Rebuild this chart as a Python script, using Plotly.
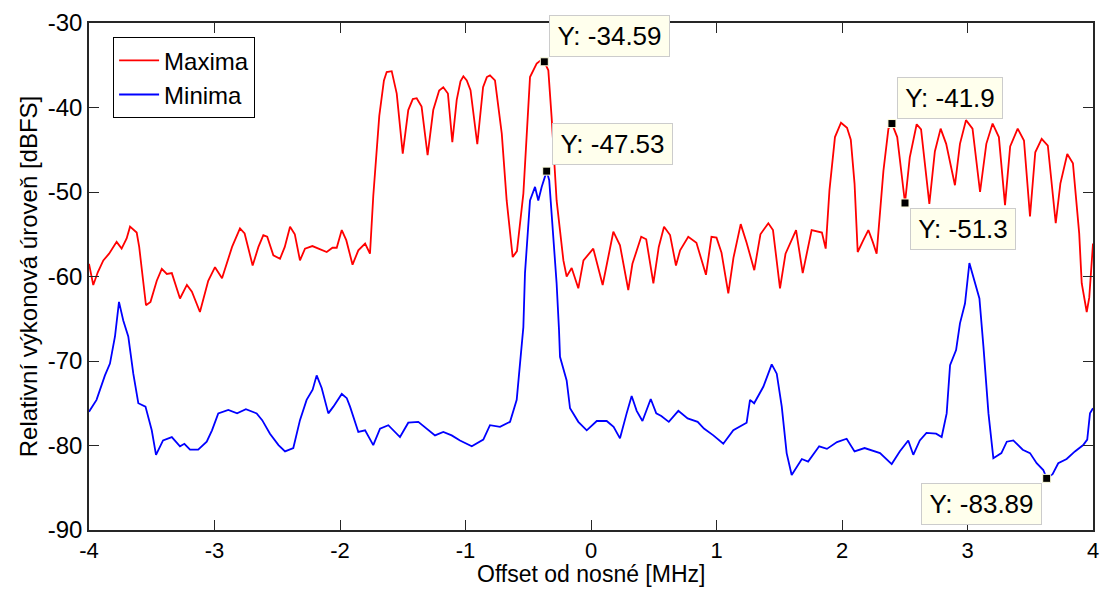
import plotly.graph_objects as go

# Maxima trace (offset in MHz, level in dBFS)
max_x = [-4.00, -3.966, -3.93, -3.886, -3.84, -3.78, -3.74, -3.70, -3.673, -3.62, -3.60, -3.546, -3.51,
         -3.46, -3.42, -3.38, -3.34, -3.275, -3.22, -3.18, -3.116, -3.05, -2.996, -2.94, -2.86, -2.797,
         -2.76, -2.696, -2.65, -2.611, -2.58, -2.531, -2.478, -2.44, -2.398, -2.36, -2.319, -2.279, -2.22,
         -2.16, -2.106, -2.06, -2.026, -1.986, -1.95, -1.90, -1.854, -1.80, -1.761, -1.735, -1.687, -1.65,
         -1.628, -1.588, -1.548, -1.50, -1.456, -1.42, -1.389, -1.35, -1.302, -1.257, -1.21, -1.177, -1.14,
         -1.105, -1.07, -1.04, -1.017, -0.99, -0.96, -0.906, -0.86, -0.83, -0.805, -0.765, -0.711, -0.672,
         -0.624, -0.59, -0.539, -0.486, -0.433, -0.40, -0.372, -0.34, -0.314, -0.274, -0.22, -0.194, -0.154,
         -0.101, -0.06, 0.018, 0.093, 0.178, 0.231,
         0.297, 0.33, 0.40, 0.44, 0.497, 0.54, 0.582, 0.63, 0.677, 0.71, 0.775, 0.84, 0.916, 0.96, 1.00,
         1.04, 1.094, 1.135, 1.193, 1.24, 1.301, 1.35, 1.413, 1.45, 1.506, 1.55, 1.634, 1.687, 1.758, 1.84,
         1.87, 1.90, 1.944, 1.992, 2.04, 2.07, 2.10, 2.125, 2.17, 2.21, 2.245, 2.276, 2.33, 2.37, 2.398,
         2.44, 2.502, 2.54, 2.595, 2.63, 2.696, 2.74, 2.786, 2.83, 2.90, 2.94, 2.988, 3.04, 3.10, 3.15,
         3.20, 3.25, 3.299, 3.34, 3.40, 3.45, 3.498, 3.54, 3.591, 3.64, 3.703, 3.74, 3.795, 3.84, 3.89,
         3.91, 3.95, 3.97, 4.00]
max_y = [-58.5, -61.0, -59.5, -58.1, -57.3, -55.9, -56.7, -55.5, -54.1, -54.8, -56.5, -63.4, -63.0,
         -60.5, -59.1, -59.7, -59.6, -62.6, -61.0, -61.8, -64.2, -60.5, -58.9, -60.2, -56.5, -54.3,
         -54.9, -58.7, -56.5, -55.1, -55.3, -57.5, -57.9, -56.5, -54.1, -55.0, -58.1, -56.7, -56.4,
         -56.8, -57.1, -56.6, -56.6, -54.5, -55.7, -58.6, -56.9, -56.1, -57.3, -50.5, -41.0, -36.8,
         -35.8, -35.7, -38.35, -45.45, -40.3, -39.0, -38.9, -39.9, -45.65, -40.3, -38.0, -37.6, -38.35,
         -44.1, -39.1, -36.9, -36.3, -36.8, -37.95, -44.35, -37.6, -36.4, -36.2, -36.8, -43.1, -51.0,
         -57.7, -57.0, -50.2, -36.4, -34.8, -34.4, -34.59, -35.6, -41.1, -51.0, -58.1, -60.0, -59.0,
         -61.4, -58.1, -56.7, -61.0, -54.7, -56.3,
         -61.6, -58.5, -55.3, -55.6, -60.8, -56.5, -54.1, -55.1, -58.7, -56.9, -55.3, -56.0, -59.8, -55.3, -55.4,
         -57.2, -62.0, -57.8, -53.8, -56.0, -59.25, -55.0, -53.7, -54.5, -61.4, -57.3, -54.5, -59.6, -54.5, -54.8,
         -56.7, -49.8, -43.5, -41.8, -42.4, -43.8, -49.0, -57.1, -55.7, -54.5, -55.9, -57.3, -47.5, -42.5, -41.9,
         -43.5, -51.3, -45.9, -41.98, -42.6, -51.4, -45.2, -42.5, -44.3, -49.2, -44.3, -41.5, -42.5, -50.0, -44.3,
         -41.9, -43.5, -51.55, -44.6, -42.5, -43.9, -52.9, -45.3, -43.7, -44.5, -53.7, -49.0, -45.5, -46.6, -54.9,
         -60.8, -64.2, -62.5, -56.1]

# Minima trace
min_x = [-4.00, -3.94, -3.873, -3.833, -3.793, -3.761, -3.727, -3.687, -3.647, -3.607, -3.55, -3.50, -3.466,
         -3.41, -3.34, -3.275, -3.24, -3.195, -3.13, -3.062, -3.02, -2.97, -2.89, -2.82, -2.75, -2.664,
         -2.62, -2.558, -2.49, -2.438, -2.372, -2.319, -2.266, -2.218, -2.186, -2.146, -2.093, -2.053,
         -1.986, -1.946, -1.92, -1.854, -1.80, -1.735, -1.681, -1.615, -1.522, -1.456, -1.376, -1.31,
         -1.243, -1.177, -1.11, -1.044, -0.95, -0.858, -0.805, -0.725, -0.645, -0.592, -0.552, -0.539,
         -0.526, -0.486, -0.446, -0.42, -0.393, -0.353, -0.333, -0.30, -0.274, -0.255, -0.247, -0.194,
         -0.167, -0.101, -0.034, 0.046, 0.125, 0.18, 0.231, 0.284, 0.324, 0.364, 0.41, 0.476, 0.52, 0.56,
         0.62, 0.696, 0.77, 0.85, 0.90, 0.975, 1.054, 1.134, 1.20, 1.24, 1.267, 1.30, 1.373, 1.44, 1.48,
         1.52, 1.559, 1.599, 1.68, 1.73, 1.818, 1.88, 1.96, 2.037, 2.10, 2.18, 2.303, 2.396, 2.46, 2.528,
         2.568, 2.62, 2.673, 2.75, 2.794, 2.834, 2.861, 2.909, 2.94, 2.98, 3.015, 3.06, 3.095, 3.127,
         3.167, 3.206, 3.27, 3.313, 3.365, 3.44, 3.498, 3.551, 3.604, 3.631, 3.678, 3.723, 3.79, 3.856,
         3.922, 3.954, 3.976, 4.00]
min_y = [-76.0, -74.6, -71.7, -70.3, -67.1, -63.0, -65.2, -67.1, -71.5, -75.0, -75.4, -78.2, -81.1,
         -79.4, -79.0, -80.1, -79.8, -80.5, -80.5, -79.55, -78.2, -76.2, -75.8, -76.2, -75.7, -76.2,
         -77.0, -78.6, -79.95, -80.7, -80.3, -77.0, -74.6, -73.4, -71.7, -73.2, -76.2, -75.4,
         -73.9, -74.4, -75.4, -78.4, -78.2, -79.95, -78.0, -77.6, -79.0, -77.3, -77.2, -78.0,
         -78.8, -78.4, -78.8, -79.4, -80.1, -79.3, -77.6, -77.8, -77.2, -74.6, -68.7, -66.0,
         -59.6, -51.0, -49.4, -51.0, -49.4, -47.53, -48.6, -54.9, -60.8, -66.3, -69.5, -72.3,
         -75.6, -77.2, -78.2, -77.1, -77.1, -77.8, -79.15, -76.2, -74.15, -75.9, -77.1, -74.5, -76.2, -76.5,
         -77.2, -75.9, -76.8, -77.2, -78.0, -78.8, -79.8, -78.2, -77.6, -77.3, -74.6, -75.0, -73.05, -70.4, -71.5,
         -75.4, -80.9, -83.5, -81.6, -81.9, -80.1, -80.4, -79.6, -79.2, -80.7, -80.3, -80.9, -82.2, -80.7, -79.4,
         -81.1, -79.4, -78.5, -78.6, -79.0, -76.2, -70.5, -68.7, -65.55, -63.2, -58.4, -60.6, -62.6, -68.3,
         -76.2, -81.5, -80.9, -79.55, -79.4, -80.5, -80.9, -82.1, -82.9, -83.89, -83.4, -82.1, -81.6, -80.7,
         -79.95, -79.3, -76.2, -75.6]

# Data cursor readouts
tip_x = [-0.372, -0.353, 2.398, 2.502, 3.631]
tip_y = [-34.59, -47.53, -41.9, -51.3, -83.89]
tip_text = ["Y: -34.59", "Y: -47.53", "Y: -41.9", "Y: -51.3", "Y: -83.89"]

x_ticks = [-4, -3, -2, -1, 0, 1, 2, 3, 4]
y_ticks = [-90, -80, -70, -60, -50, -40, -30]

FONT = "Liberation Sans, Arial, sans-serif"
AXIS_COLOR = "#262626"

fig = go.Figure()
fig.add_trace(go.Scatter(x=max_x, y=max_y, mode="lines", name="Maxima",
                         line=dict(color="#ff0000", width=1.8)))
fig.add_trace(go.Scatter(x=min_x, y=min_y, mode="lines", name="Minima",
                         line=dict(color="#0000ff", width=1.8)))
fig.add_trace(go.Scatter(x=tip_x, y=tip_y, mode="markers", showlegend=False,
                         marker=dict(symbol="square", size=8, color="black",
                                     line=dict(color="#ffffe0", width=1))))

# label box placement per readout: (xanchor, yanchor, xshift, yshift, box width)
placement = [("left", "bottom", 5, 5, 113),
             ("left", "bottom", 5, 6, 113),
             ("left", "bottom", 5, 5, 98),
             ("left", "top", 5, -5, 98),
             ("right", "top", -5, -5, 113)]
for xv, yv, txt, (xa, ya, xs, ys, w) in zip(tip_x, tip_y, tip_text, placement):
    fig.add_annotation(x=xv, y=yv, xref="x", yref="y", text=txt, showarrow=False,
                       xanchor=xa, yanchor=ya, xshift=xs, yshift=ys,
                       width=w, height=34, align="center", valign="middle",
                       font=dict(family=FONT, size=26, color="black"),
                       bgcolor="rgb(255,255,237)", bordercolor="#cccccc",
                       borderwidth=1, borderpad=3)

# x-axis title sits low, right along the bottom edge
fig.add_annotation(x=0.5, y=0, xref="paper", yref="paper", text="Offset od nosné [MHz]",
                   showarrow=False, xanchor="center", yanchor="bottom", yshift=-58,
                   borderpad=0, font=dict(family=FONT, size=23, color="black"))

fig.update_layout(
    width=1101, height=589,
    margin=dict(l=89, r=8, t=23, b=59),
    paper_bgcolor="white", plot_bgcolor="white",
    font=dict(family=FONT, size=23, color="black"),
    showlegend=True,
    legend=dict(x=0.024, y=0.972, xanchor="left", yanchor="top",
                bgcolor="white", bordercolor="black", borderwidth=1,
                font=dict(family=FONT, size=24, color="black"),
                tracegroupgap=0, itemwidth=40),
)
fig.update_xaxes(range=[-4, 4], tickvals=x_ticks, ticktext=[str(v) for v in x_ticks],
                 ticks="inside", ticklen=10, tickcolor=AXIS_COLOR, tickwidth=1,
                 showline=True, linecolor=AXIS_COLOR, linewidth=1.5, mirror="ticks",
                 showgrid=False, zeroline=False, automargin=False,
                 tickfont=dict(family=FONT, size=22, color="black"))
fig.update_yaxes(range=[-90, -30], tickvals=y_ticks, ticktext=[str(v) for v in y_ticks],
                 ticks="inside", ticklen=10, tickcolor=AXIS_COLOR, tickwidth=1,
                 showline=True, linecolor=AXIS_COLOR, linewidth=1.5, mirror="ticks",
                 showgrid=False, zeroline=False, automargin=False,
                 tickfont=dict(family=FONT, size=24, color="black"),
                 title=dict(text="Relativní výkonová úroveň [dBFS]", standoff=3,
                            font=dict(family=FONT, size=24, color="black")))

fig.write_html("out.html")
